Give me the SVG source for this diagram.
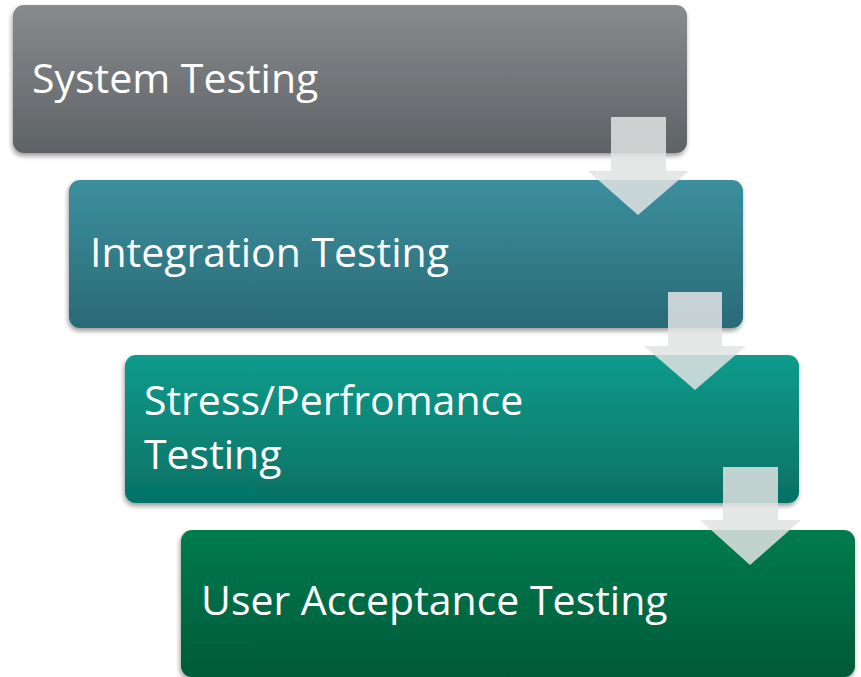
<svg xmlns="http://www.w3.org/2000/svg" width="861" height="677" viewBox="0 0 861 677">
  <defs>
    <linearGradient id="gGray" x1="0" y1="0" x2="0" y2="1">
      <stop offset="0" stop-color="#878b8e"/>
      <stop offset="1" stop-color="#5f6265"/>
    </linearGradient>
    <linearGradient id="gBlue" x1="0" y1="0" x2="0" y2="1">
      <stop offset="0" stop-color="#3c8f9e"/>
      <stop offset="1" stop-color="#2a6a76"/>
    </linearGradient>
    <linearGradient id="gTeal" x1="0" y1="0" x2="0" y2="1">
      <stop offset="0" stop-color="#0b9b8b"/>
      <stop offset="1" stop-color="#067165"/>
    </linearGradient>
    <linearGradient id="gGreen" x1="0" y1="0" x2="0" y2="1">
      <stop offset="0" stop-color="#037b50"/>
      <stop offset="1" stop-color="#025a39"/>
    </linearGradient>
    <filter id="shadow" x="-5%" y="-10%" width="110%" height="125%">
      <feGaussianBlur in="SourceAlpha" stdDeviation="2.5"/>
      <feOffset dx="-1" dy="3" result="b"/>
      <feComponentTransfer><feFuncA type="linear" slope="0.4"/></feComponentTransfer>
      <feMerge><feMergeNode/><feMergeNode in="SourceGraphic"/></feMerge>
    </filter>
  </defs>
  <style>
    .box { filter: url(#shadow); }
    .label { font-family: "Open Sans", "Noto Sans", sans-serif; font-size: 41px; fill: #ffffff; }
    .arrow { fill: #e2e3e3; fill-opacity: 0.85; }
  </style>

  <g id="system-testing">
    <rect class="box" x="13" y="5" width="674" height="148" rx="11" fill="url(#gGray)"/>
    <text class="label" x="32" y="93">System Testing</text>
  </g>
  <g id="integration-testing">
    <rect class="box" x="69" y="180" width="674" height="148" rx="11" fill="url(#gBlue)"/>
    <text class="label" x="90" y="267">Integration Testing</text>
  </g>
  <g id="stress-performance-testing">
    <rect class="box" x="125" y="355" width="674" height="148" rx="11" fill="url(#gTeal)"/>
    <text class="label" x="144" y="415">Stress/Perfromance</text>
    <text class="label" x="144" y="469">Testing</text>
  </g>
  <g id="user-acceptance-testing">
    <rect class="box" x="181" y="530" width="674" height="147" rx="11" fill="url(#gGreen)"/>
    <text class="label" x="201" y="615">User Acceptance Testing</text>
  </g>

  <g id="connectors">
    <polygon class="arrow" points="611,117 666,117 666,171 689,171 638,215 588,171 611,171"/>
    <polygon class="arrow" points="668,292 722,292 722,346 746,346 695,390 644,346 668,346"/>
    <polygon class="arrow" points="723,467 778,467 778,520 801,520 750,565 700,520 723,520"/>
  </g>
</svg>
